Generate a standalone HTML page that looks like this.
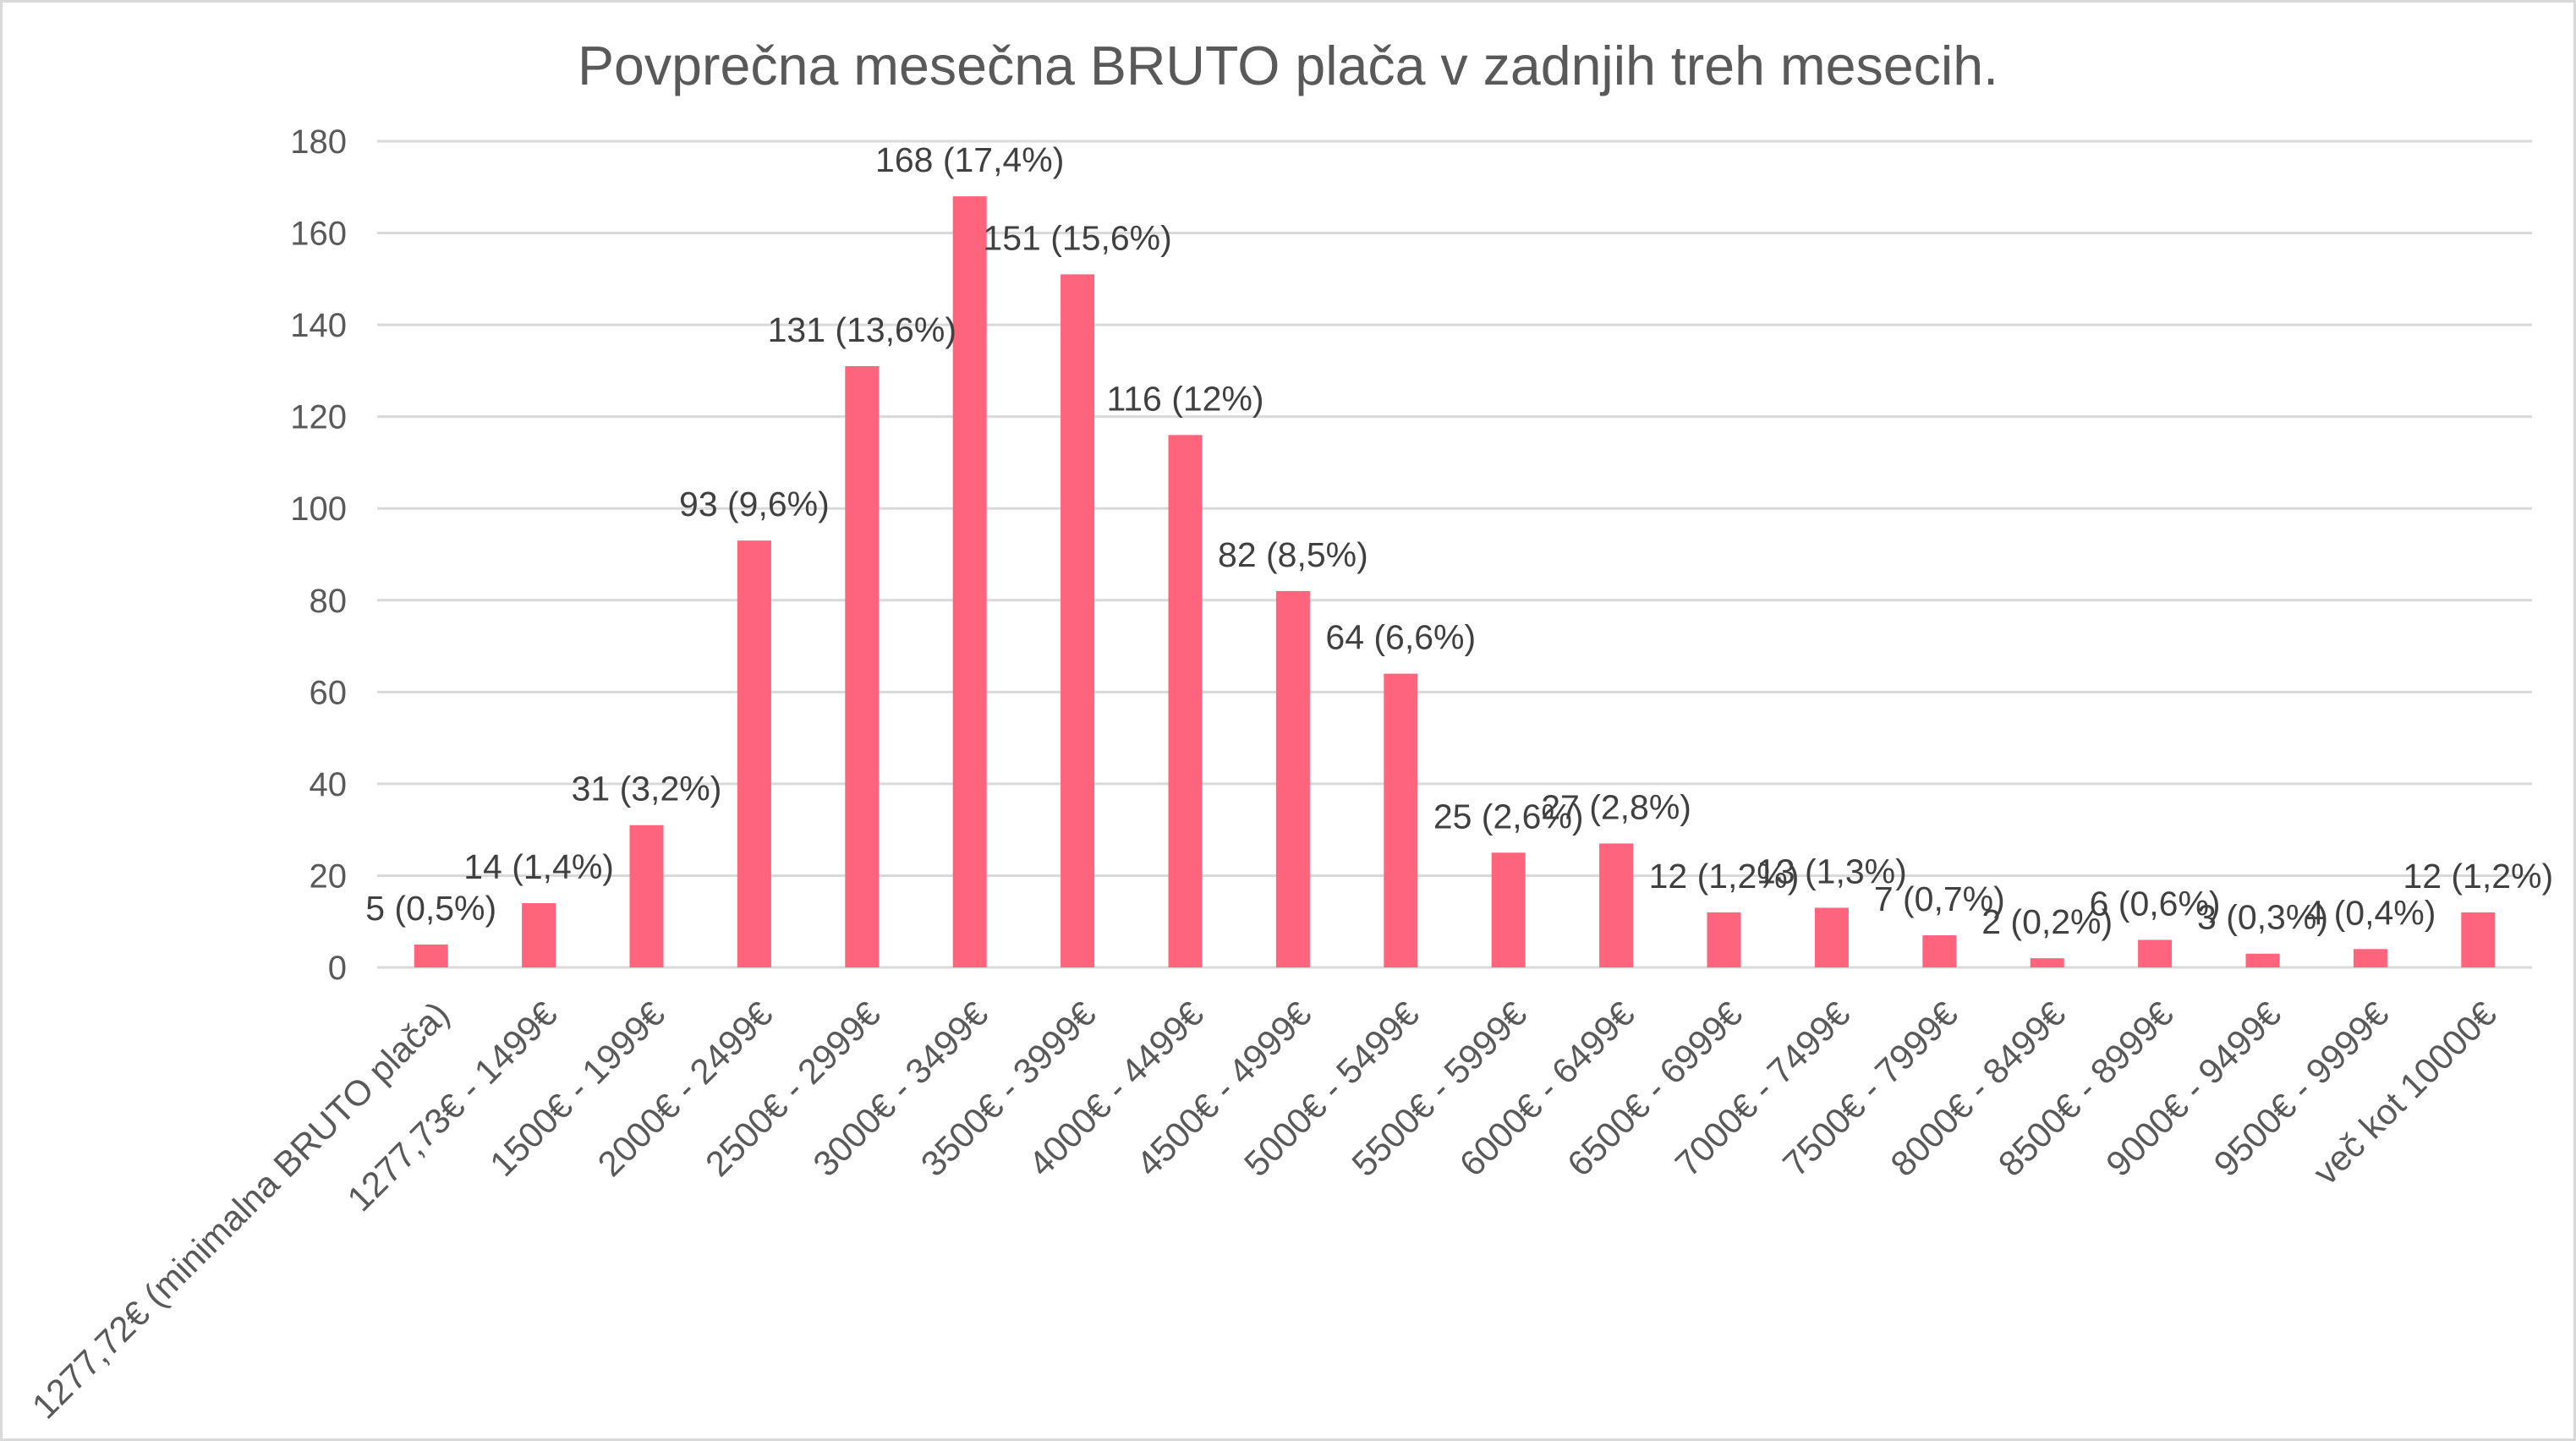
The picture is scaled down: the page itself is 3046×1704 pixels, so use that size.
<!DOCTYPE html>
<html><head><meta charset="utf-8"><style>
html,body{margin:0;padding:0;background:#fff;}
svg{display:block;}
text{font-family:"Liberation Sans",Arial,sans-serif;}
</style></head><body>
<svg width="3046" height="1704" viewBox="0 0 3046 1704" xmlns="http://www.w3.org/2000/svg">
<rect x="1.5" y="1.5" width="3043" height="1701" fill="#fff" stroke="#d9d9d9" stroke-width="3"/>
<text x="1523" y="100" text-anchor="middle" font-size="65" fill="#595959" textLength="1680" lengthAdjust="spacingAndGlyphs">Povprečna mesečna BRUTO plača v zadnjih treh mesecih.</text>
<g id="grid" stroke="#d9d9d9" stroke-width="3"></g>
<g id="yt" font-size="40" fill="#595959" text-anchor="end"></g>
<g id="bars" fill="#ff647d"></g>
<g id="dl" font-size="41" fill="#404040" text-anchor="middle"></g>
<g id="xl" font-size="42" fill="#595959" text-anchor="end"></g>
</svg>
<script>
const ns="http://www.w3.org/2000/svg";
const base=1144, k=(1144-167)/180, left=446, step=127.4;
const vals=[5,14,31,93,131,168,151,116,82,64,25,27,12,13,7,2,6,3,4,12];
const pct=["0,5","1,4","3,2","9,6","13,6","17,4","15,6","12","8,5","6,6","2,6","2,8","1,2","1,3","0,7","0,2","0,6","0,3","0,4","1,2"];
const cats=["1277,72€ (minimalna BRUTO plača)","1277,73€ - 1499€","1500€ - 1999€","2000€ - 2499€","2500€ - 2999€","3000€ - 3499€","3500€ - 3999€","4000€ - 4499€","4500€ - 4999€","5000€ - 5499€","5500€ - 5999€","6000€ - 6499€","6500€ - 6999€","7000€ - 7499€","7500€ - 7999€","8000€ - 8499€","8500€ - 8999€","9000€ - 9499€","9500€ - 9999€","več kot 10000€"];
function el(p,t,a,txt){const e=document.createElementNS(ns,t);for(const q in a)e.setAttribute(q,a[q]);if(txt!=null)e.textContent=txt;document.getElementById(p).appendChild(e);}
for(let v=0;v<=180;v+=20){const y=base-v*k;el("grid","line",{x1:left,x2:2994,y1:y,y2:y});el("yt","text",{x:410,y:y+14},String(v));}
vals.forEach((v,i)=>{const cx=left+step*(i+0.5);const top=base-v*k;
el("bars","rect",{x:cx-20,y:top,width:40,height:v*k});
el("dl","text",{x:cx,y:top-43+14},v+" ("+pct[i]+"%)");
const ax=cx+24, ay=1202;
el("xl","text",{x:ax,y:ay,transform:"rotate(-45 "+ax+" "+ay+")"},cats[i]);});
</script>
</body></html>
